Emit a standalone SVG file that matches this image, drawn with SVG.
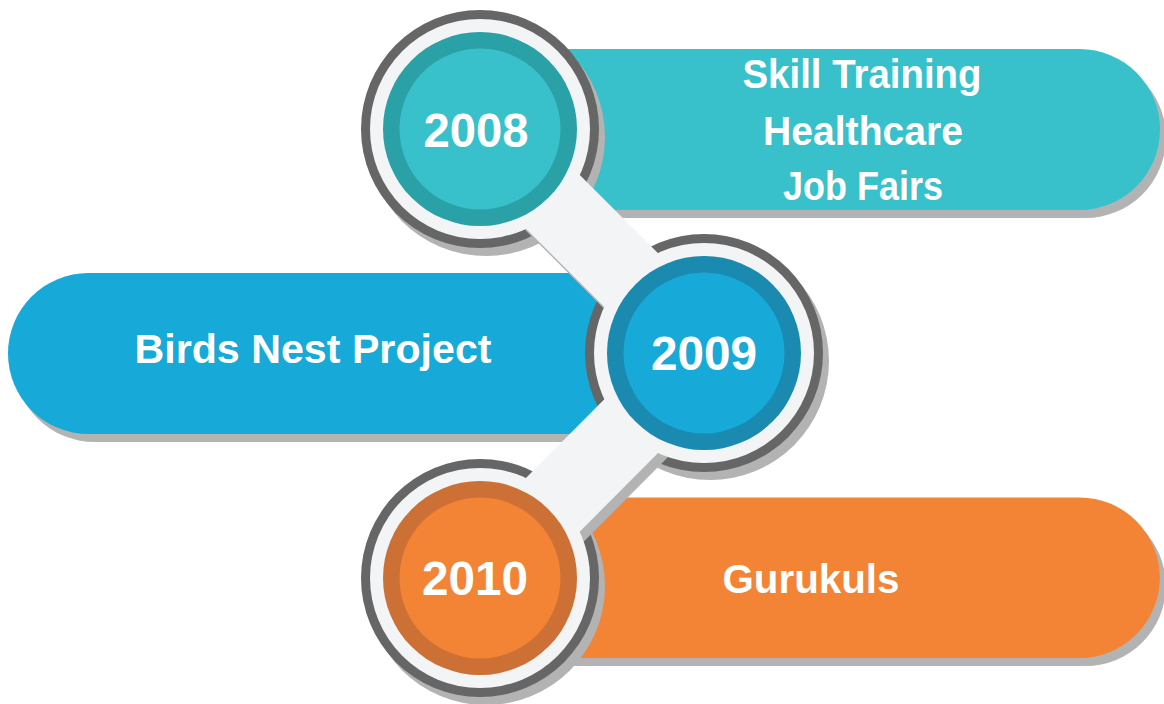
<svg xmlns="http://www.w3.org/2000/svg" width="1164" height="704" viewBox="0 0 1164 704">
<style>
.shadow{fill:#b3b3b3}
.ring{fill:#666666}
.light{fill:#f3f4f6}
.t{font-family:"Liberation Sans",Arial,sans-serif;font-weight:bold;fill:#ffffff;text-anchor:middle}
.year{font-size:48px}
.lbl{font-size:40px}
.band{stroke:#f3f4f6;stroke-width:76;stroke-linecap:butt;fill:none}
.bandsh{stroke:#b3b3b3;stroke-width:76;stroke-linecap:butt;fill:none}
</style>
<rect width="1164" height="704" fill="#ffffff"/>

<g id="node-2008-base">
  <path class="shadow" transform="translate(6,8)" d="M480,49 H1079.5 A80.5,80.5 0 0 1 1079.5,210 H480 Z"/>
  <path fill="#38c1cb" d="M480,49 H1079.5 A80.5,80.5 0 0 1 1079.5,210 H480 Z"/>
  <circle class="shadow" cx="486" cy="137" r="119"/>
  <circle class="ring" cx="480" cy="129" r="119"/>
</g>
<g id="node-2009-base">
  <path class="shadow" transform="translate(6,8)" d="M704,273 H88.5 A80.5,80.5 0 0 0 88.5,434 H704 Z"/>
  <path fill="#17a9d7" d="M704,273 H88.5 A80.5,80.5 0 0 0 88.5,434 H704 Z"/>
  <circle class="shadow" cx="710" cy="361" r="119"/>
  <circle class="ring" cx="704" cy="353" r="119"/>
</g>
<g id="node-2010-base">
  <path class="shadow" transform="translate(6,8)" d="M480,497.5 H1079.5 A80.25,80.25 0 0 1 1079.5,658 H480 Z"/>
  <path fill="#f38435" d="M480,497.5 H1079.5 A80.25,80.25 0 0 1 1079.5,658 H480 Z"/>
  <circle class="shadow" cx="486" cy="586" r="119"/>
  <circle class="ring" cx="480" cy="578" r="119"/>
</g>

<g id="connectors">
  <line class="bandsh" x1="486" y1="137" x2="710" y2="361"/>
  <line class="bandsh" x1="710" y1="361" x2="486" y2="586"/>
  <line class="band" x1="480" y1="129" x2="704" y2="353"/>
  <line class="band" x1="704" y1="353" x2="480" y2="578"/>
</g>

<g id="node-2008">
  <circle class="light" cx="480" cy="129" r="110"/>
  <circle fill="#2aa1a7" cx="480" cy="129" r="97"/>
  <circle fill="#38c1cb" cx="480" cy="129" r="80.5"/>
  <text class="t year" x="476" y="147" textLength="105" lengthAdjust="spacingAndGlyphs">2008</text>
  <text class="t lbl" x="862" y="88" textLength="239" lengthAdjust="spacingAndGlyphs">Skill Training</text>
  <text class="t lbl" x="863" y="145" textLength="200" lengthAdjust="spacingAndGlyphs">Healthcare</text>
  <text class="t lbl" x="863" y="200" textLength="160" lengthAdjust="spacingAndGlyphs">Job Fairs</text>
</g>
<g id="node-2009">
  <circle class="light" cx="704" cy="353" r="110"/>
  <circle fill="#1b8ab0" cx="704" cy="353" r="97"/>
  <circle fill="#17a9d7" cx="704" cy="353" r="80.5"/>
  <text class="t year" x="704" y="370" textLength="106" lengthAdjust="spacingAndGlyphs">2009</text>
  <text class="t lbl" x="313" y="363" textLength="357" lengthAdjust="spacingAndGlyphs">Birds Nest Project</text>
</g>
<g id="node-2010">
  <circle class="light" cx="480" cy="578" r="110"/>
  <circle fill="#cc7035" cx="480" cy="578" r="97"/>
  <circle fill="#f38435" cx="480" cy="578" r="80.5"/>
  <text class="t year" x="475" y="595" textLength="106" lengthAdjust="spacingAndGlyphs">2010</text>
  <text class="t lbl" x="811" y="593" textLength="177" lengthAdjust="spacingAndGlyphs">Gurukuls</text>
</g>
</svg>
